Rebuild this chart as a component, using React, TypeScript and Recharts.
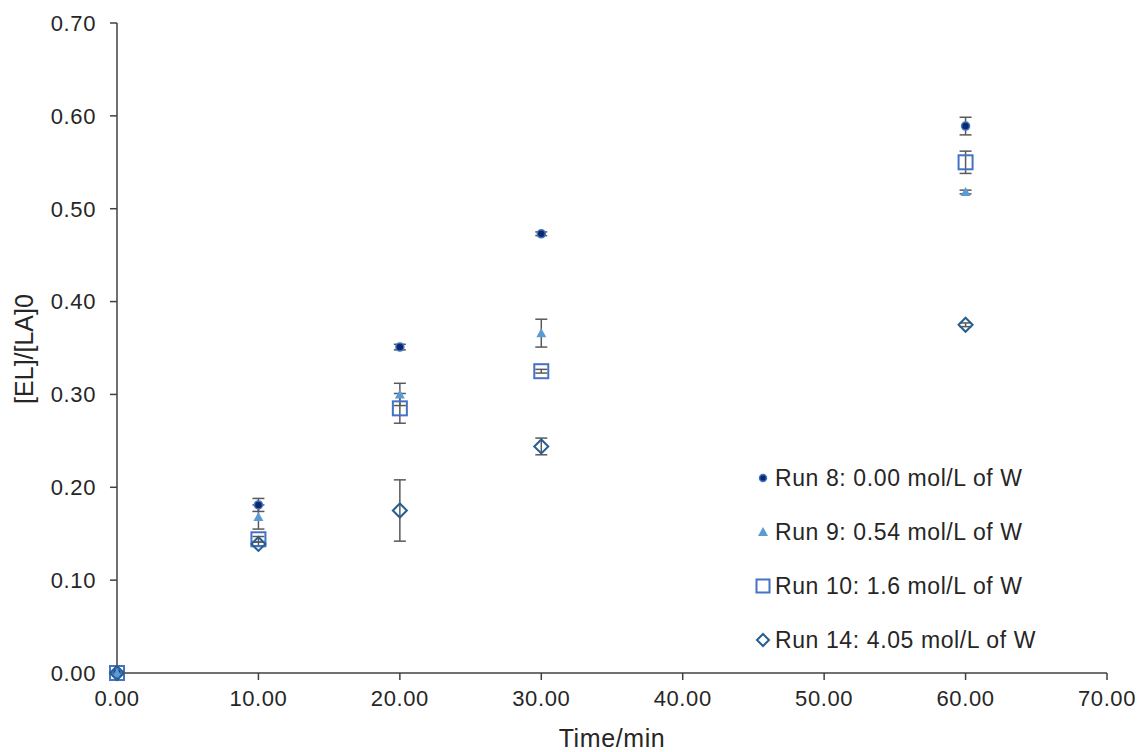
import React from "react";
import { ScatterChart, Scatter, XAxis, YAxis, ErrorBar } from "recharts";

// time points (min)
const times = [0, 10, 20, 30, 60];

// [EL]/[LA]0 per run, with +/- error
const run8 = [0, 0.181, 0.351, 0.473, 0.589];
const run8Err = [0, 0.007, 0.003, 0.002, 0.0095];
const run9 = [0, 0.168, 0.3, 0.366, 0.518];
const run9Err = [0, 0.013, 0.012, 0.015, 0.002];
const run10 = [0, 0.144, 0.285, 0.325, 0.55];
const run10Err = [0, 0.003, 0.016, 0.002, 0.012];
const run14 = [0, 0.139, 0.175, 0.244, 0.375];
const run14Err = [0, 0.002, 0.033, 0.009, 0.002];

const xTicks = [0, 10, 20, 30, 40, 50, 60, 70];
const yTicks = [0, 0.1, 0.2, 0.3, 0.4, 0.5, 0.6, 0.7];

const toRows = (vals: number[], errs: number[]) =>
  times.map((t, i) => ({ t, v: vals[i], e: errs[i] }));

const FONT = "'Liberation Sans', Arial, sans-serif";
const AXIS = "#404040";
const ERR = "#595959";

const Dot = ({ cx, cy, size = 4 }: any) => (
  <circle cx={cx} cy={cy} r={size} fill="#0b2a6b" stroke="#4472c4" strokeWidth={1.5} />
);
const Tri = ({ cx, cy, size = 5 }: any) => (
  <path
    d={`M${cx},${cy - size} L${cx + size},${cy + size * 0.8} L${cx - size},${cy + size * 0.8} Z`}
    fill="#5b9bd5"
  />
);
const Sq = ({ cx, cy, size = 7 }: any) => (
  <rect x={cx - size} y={cy - size} width={size * 2} height={size * 2} fill="none" stroke="#4472c4" strokeWidth={2} />
);
const Dia = ({ cx, cy, size = 7 }: any) => (
  <path
    d={`M${cx},${cy - size} L${cx + size},${cy} L${cx},${cy + size} L${cx - size},${cy} Z`}
    fill="none"
    stroke="#255e91"
    strokeWidth={2}
  />
);

const legendItems = [
  { label: "Run 8: 0.00 mol/L of W", Icon: Dot, size: 3.5 },
  { label: "Run 9: 0.54 mol/L of W", Icon: Tri, size: 5 },
  { label: "Run 10: 1.6 mol/L of W", Icon: Sq, size: 6.5 },
  { label: "Run 14: 4.05 mol/L of W", Icon: Dia, size: 6 },
];

function ChartLegend() {
  return (
    <div
      style={{
        position: "absolute",
        left: 755,
        top: 451,
        fontFamily: FONT,
        fontSize: 23,
        letterSpacing: 0.6,
        color: "#262626",
      }}
    >
      {legendItems.map(({ label, Icon, size }) => (
        <div key={label} style={{ display: "flex", alignItems: "center", height: 54 }}>
          <svg width={16} height={16} style={{ marginRight: 4 }}>
            <Icon cx={8} cy={8} size={size} />
          </svg>
          <span>{label}</span>
        </div>
      ))}
    </div>
  );
}

export default function App() {
  const tick = { fontSize: 22, fill: "#262626", fontFamily: FONT, letterSpacing: 0.6 };
  return (
    <div style={{ position: "absolute", left: 0, top: 0, width: 1141, height: 752, background: "#fff" }}>
      <ScatterChart width={1141} height={752} margin={{ top: 23, right: 34, bottom: 0, left: 0 }}>
        <XAxis
          type="number"
          dataKey="t"
          domain={[0, 70]}
          ticks={xTicks}
          tickFormatter={(v: number) => v.toFixed(2)}
          tick={tick}
          tickSize={7}
          tickMargin={10}
          height={79}
          stroke={AXIS}
          strokeWidth={1.5}
          label={{
            value: "Time/min",
            position: "insideBottom",
            offset: 5,
            fontSize: 25,
            fill: "#262626",
            fontFamily: FONT,
            letterSpacing: 0.6,
          }}
        />
        <YAxis
          type="number"
          dataKey="v"
          domain={[0, 0.7]}
          ticks={yTicks}
          tickFormatter={(v: number) => v.toFixed(2)}
          tick={tick}
          tickSize={7}
          tickMargin={14}
          width={117}
          stroke={AXIS}
          strokeWidth={1.5}
          label={{
            content: () => (
              <text
                x={24}
                y={349}
                transform="rotate(-90 24 349)"
                textAnchor="middle"
                dominantBaseline="central"
                fontSize={25}
                fill="#262626"
                fontFamily={FONT}
              >
                [EL]/[LA]0
              </text>
            ),
          }}
        />
        <Scatter name="Run 8" data={toRows(run8, run8Err)} shape={(p: any) => <Dot cx={p.cx} cy={p.cy} />} isAnimationActive={false}>
          <ErrorBar dataKey="e" direction="y" width={6} stroke={ERR} strokeWidth={1.5} />
        </Scatter>
        <Scatter name="Run 9" data={toRows(run9, run9Err)} shape={(p: any) => <Tri cx={p.cx} cy={p.cy} />} isAnimationActive={false}>
          <ErrorBar dataKey="e" direction="y" width={6} stroke={ERR} strokeWidth={1.5} />
        </Scatter>
        <Scatter name="Run 10" data={toRows(run10, run10Err)} shape={(p: any) => <Sq cx={p.cx} cy={p.cy} />} isAnimationActive={false}>
          <ErrorBar dataKey="e" direction="y" width={6} stroke={ERR} strokeWidth={1.5} />
        </Scatter>
        <Scatter name="Run 14" data={toRows(run14, run14Err)} shape={(p: any) => <Dia cx={p.cx} cy={p.cy} />} isAnimationActive={false}>
          <ErrorBar dataKey="e" direction="y" width={6} stroke={ERR} strokeWidth={1.5} />
        </Scatter>
      </ScatterChart>
      <ChartLegend />
    </div>
  );
}
